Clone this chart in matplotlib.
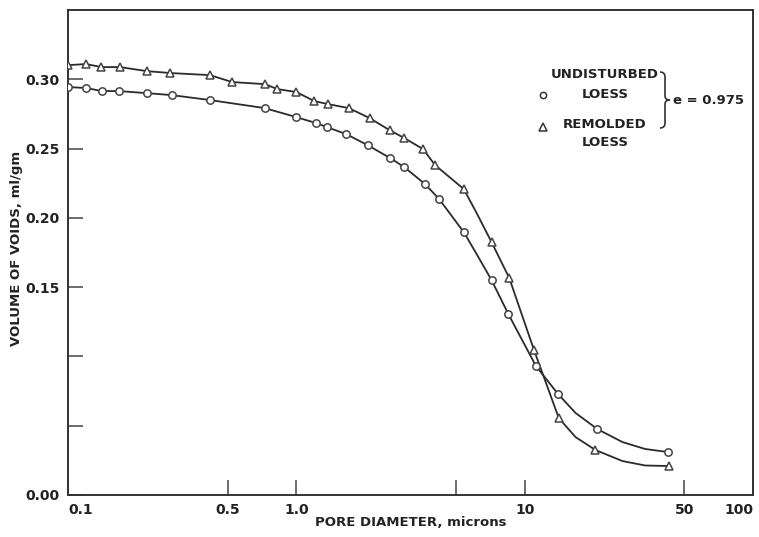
import matplotlib
matplotlib.use("Agg")
import matplotlib.pyplot as plt
from matplotlib.path import Path
from matplotlib.patches import PathPatch
from matplotlib.ticker import NullLocator, FixedLocator, FixedFormatter

# Undisturbed loess (circles)
und_diam = [0.1, 0.12, 0.141, 0.167, 0.221, 0.284, 0.419, 0.727, 1.0, 1.22, 1.36,
            1.65, 2.05, 2.58, 2.97, 3.66, 4.22, 5.41, 7.16, 8.48, 11.2, 14.0, 20.8, 42.4]
und_void = [0.2944, 0.2937, 0.2915, 0.2915, 0.2900, 0.2886, 0.2850, 0.2792, 0.2727,
            0.2684, 0.2655, 0.2605, 0.2525, 0.2431, 0.2366, 0.2244, 0.2136, 0.1897,
            0.1551, 0.1306, 0.0931, 0.0729, 0.0476, 0.0310]

# Remolded loess (triangles)
rem_diam = [0.1, 0.12, 0.14, 0.169, 0.221, 0.281, 0.419, 0.523, 0.727, 0.827, 1.0,
            1.197, 1.376, 1.698, 2.093, 2.56, 2.97, 3.59, 4.05, 5.41, 7.16, 8.56,
            10.99, 14.1, 20.4, 42.8]
rem_void = [0.3102, 0.3110, 0.3088, 0.3088, 0.3059, 0.3045, 0.3030, 0.2980, 0.2965,
            0.2929, 0.2908, 0.2843, 0.2821, 0.2792, 0.2720, 0.2633, 0.2576, 0.2496,
            0.2381, 0.2208, 0.1825, 0.1566, 0.1046, 0.0556, 0.0325, 0.0209]

# extra points (between markers)
und_curve_diam = [6.16, 16.7, 26.8, 33.7]
und_curve_void = [0.1739, 0.0592, 0.0382, 0.0332]
rem_curve_diam = [6.16, 16.7, 26.8, 33.7]
rem_curve_void = [0.2035, 0.0418, 0.0245, 0.0213]

x_ticks = [0.1, 0.5, 1.0, 5.0, 10.0, 50.0, 100.0]
x_labels = ['0.1', '0.5', '1.0', '', '10', '50', '100']
y_ticks = [0.0, 0.05, 0.10, 0.15, 0.20, 0.25, 0.30]
y_labels = ['0.00', '', '', '0.15', '0.20', '0.25', '0.30']

W, H = 759, 537
fig = plt.figure(figsize=(W / 100, H / 100), dpi=100)
ax = fig.add_axes([68 / W, 1 - 495 / H, (753 - 68) / W, (495 - 10) / H])

ink = '#2b2b2b'
for d, v, cd, cv in [(und_diam, und_void, und_curve_diam, und_curve_void),
                     (rem_diam, rem_void, rem_curve_diam, rem_curve_void)]:
    pts = sorted(zip(d + cd, v + cv))
    ax.plot([p[0] for p in pts], [p[1] for p in pts], '-', color=ink, lw=1.3, zorder=2)
ax.plot(und_diam, und_void, 'o', ms=5.3, mfc='white', mec='#444444', mew=1.1, zorder=3)
ax.plot(rem_diam, rem_void, '^', ms=6.3, mfc='white', mec='#444444', mew=1.1, zorder=3)

ax.set_xscale('log')
ax.set_xlim(0.1, 100)
ax.set_ylim(0.0, 0.35)
ax.xaxis.set_major_locator(FixedLocator(x_ticks))
ax.xaxis.set_major_formatter(FixedFormatter(x_labels))
ax.xaxis.set_minor_locator(NullLocator())
ax.set_yticks(y_ticks)
ax.set_yticklabels(y_labels)

ax.tick_params(direction='in', length=11, width=1.1, color='#444444',
               labelsize=10, labelcolor='#222222', pad=6)
for lab in ax.get_xticklabels() + ax.get_yticklabels():
    lab.set_fontweight('bold')
xl = ax.get_xticklabels()
xl[0].set_horizontalalignment('left')
xl[-1].set_horizontalalignment('right')

for s in ax.spines.values():
    s.set_linewidth(1.4)
    s.set_color('#333333')

ax.set_xlabel('PORE DIAMETER, microns', fontsize=9.5, fontweight='bold', color='#222222')
ax.set_ylabel('VOLUME OF VOIDS, ml/gm', fontsize=9.5, fontweight='bold', color='#222222')
ax.xaxis.set_label_coords(0.5, (495 - 516) / 485)
ax.yaxis.set_label_coords((23 - 68) / 685, (495 - 248) / 485)


def fx(px):
    return px / W


def fy(py):
    return 1 - py / H


# legend block
tk = dict(fontsize=9.5, fontweight='bold', color='#222222', ha='center', va='center')
fig.text(fx(605), fy(75), 'UNDISTURBED', **tk)
fig.text(fx(605), fy(94), 'LOESS', **tk)
fig.text(fx(605), fy(125), 'REMOLDED', **tk)
fig.text(fx(605), fy(142), 'LOESS', **tk)
fig.lines.append(plt.Line2D([fx(543)], [fy(95)], marker='o', ms=4.5, mfc='white',
                            mec='#333333', mew=1.1, transform=fig.transFigure))
fig.lines.append(plt.Line2D([fx(543)], [fy(127)], marker='^', ms=5.5, mfc='white',
                            mec='#333333', mew=1.1, transform=fig.transFigure))

brace = [(660, 72), (665, 72), (665, 77), (665, 96), (665, 100), (670, 100),
         (665, 100), (665, 104), (665, 123), (665, 128), (660, 128)]
codes = [Path.MOVETO, Path.CURVE3, Path.CURVE3, Path.LINETO, Path.CURVE3, Path.CURVE3,
         Path.CURVE3, Path.CURVE3, Path.LINETO, Path.CURVE3, Path.CURVE3]
bp = Path([(fx(a), fy(b)) for a, b in brace], codes)
fig.patches.append(PathPatch(bp, fill=False, lw=1.2, ec='#333333', transform=fig.transFigure))
fig.text(fx(673), fy(100), 'e = 0.975', fontsize=9.5, fontweight='bold', color='#222222',
         ha='left', va='center')

fig.savefig('out.png', dpi=100)
